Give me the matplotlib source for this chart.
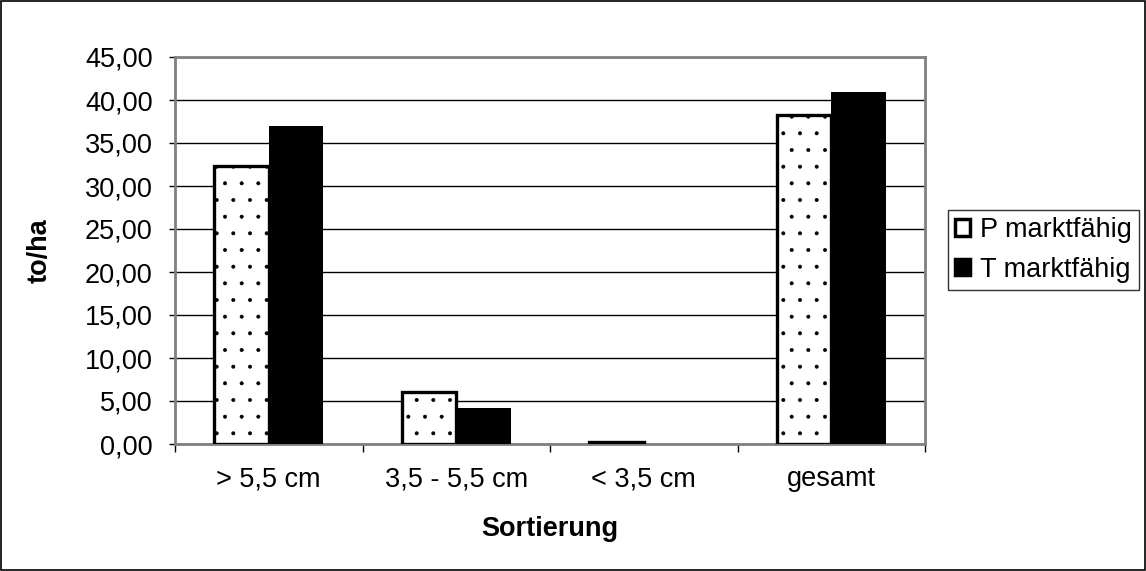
import matplotlib
matplotlib.use("Agg")
import matplotlib.pyplot as plt
from matplotlib.patches import Rectangle
from matplotlib.ticker import FuncFormatter
import numpy as np

categories = ["> 5,5 cm", "3,5 - 5,5 cm", "< 3,5 cm", "gesamt"]
p_values = [32.3, 6.05, 0.25, 38.3]
t_values = [37.0, 4.2, 0.0, 40.9]
series_names = ["P marktfähig", "T marktfähig"]

plt.rcParams['font.family'] = ['Liberation Sans', 'DejaVu Sans']
plt.rcParams['hatch.linewidth'] = 0.4

FS = 19.5

fig = plt.figure(figsize=(11.46, 5.71), dpi=100)
ax = fig.add_axes([175/1146, 1-444/571, 750/1146, 387/571])

x = np.arange(len(categories))
w = 0.29
ax.bar(x - w/2, p_values, w, facecolor='white', edgecolor='black', hatch='.', linewidth=2.4, zorder=3, label=series_names[0])
ax.bar(x + w/2, t_values, w, facecolor='black', edgecolor='none', linewidth=0, zorder=3, label=series_names[1])

ax.set_xlim(-0.5, len(categories) - 0.5)
ax.set_ylim(0, 45)
ax.set_yticks(np.arange(0, 46, 5))
ax.yaxis.set_major_formatter(FuncFormatter(lambda v, p: f"{v:.2f}".replace('.', ',')))
ax.yaxis.grid(True, color='black', linewidth=1.0, zorder=0)
ax.set_axisbelow(True)

ax.set_xticks(x)
ax.set_xticklabels(categories, fontsize=FS)
ax.tick_params(axis='x', which='major', length=0, pad=16)
ax.set_xticks(np.arange(-0.5, len(categories), 1), minor=True)
ax.tick_params(axis='x', which='minor', length=6, width=1, color='black', direction='out')
ax.tick_params(axis='y', labelsize=FS, length=4, width=1, direction='out', pad=12)

for s in ['top', 'right', 'left', 'bottom']:
    ax.spines[s].set_color('#808080')
    ax.spines[s].set_linewidth(2)

ax.set_ylabel("to/ha", fontsize=FS, fontweight='bold')
ax.yaxis.set_label_coords((53-175)/750, 0.5)
ax.set_xlabel("Sortierung", fontsize=FS, fontweight='bold')
ax.xaxis.set_label_coords(0.5, (444-516)/387)

leg = fig.legend(loc='center left', bbox_to_anchor=(948/1146, 1-250/571), frameon=True,
                 fancybox=False, edgecolor='black', fontsize=FS, handlelength=0.55,
                 handleheight=0.55, handletextpad=0.38, borderpad=0.25, labelspacing=0.5,
                 borderaxespad=0)
leg.get_frame().set_linewidth(1.0)
for h in leg.legend_handles:
    h.set_hatch(None)
    h.set_edgecolor('black')
    h.set_linewidth(2.5)

fig.patches.append(Rectangle((0.001, 0.002), 0.998, 0.996, transform=fig.transFigure,
                             fill=False, edgecolor='black', linewidth=1.2))

fig.savefig("out.png", dpi=100)
